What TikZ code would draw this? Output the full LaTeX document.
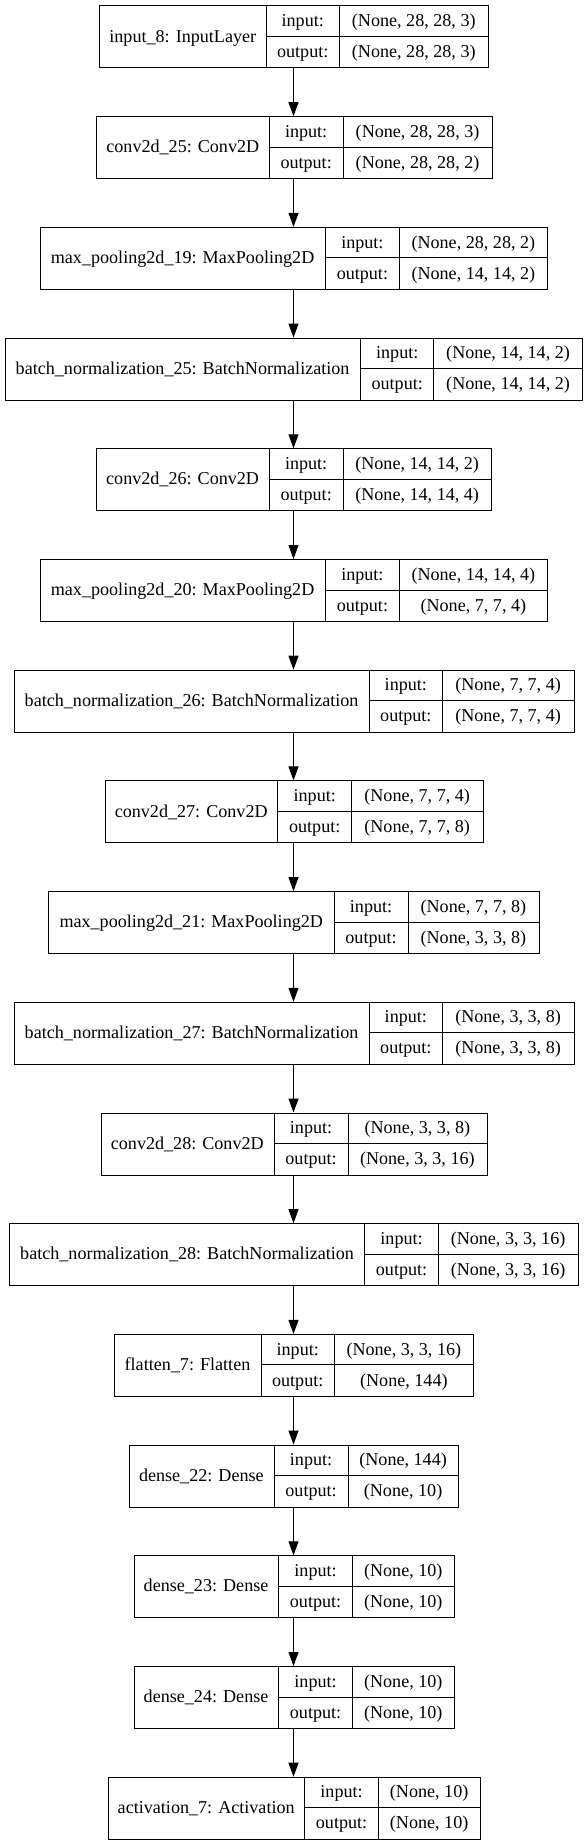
\documentclass[tikz,border=0pt]{standalone}
\usepackage{fontspec}
\setmainfont{Liberation Serif}
\usetikzlibrary{arrows.meta}
\tikzset{
  boxframe/.style={draw=black, line width=1pt, inner sep=0pt, fill=white},
  cellline/.style={draw=black, line width=1pt},
  txt/.style={inner sep=0pt, anchor=base, font=\fontsize{18.1}{21}\selectfont},
  arr/.style={draw=black, line width=1pt, -{Triangle[length=14pt,width=10pt]}}
}
% #1 index, #2 left, #3 split1, #4 split2, #5 right, #6 name, #7 input, #8 output
\newcommand\kerlayer[8]{%
  \pgfmathsetmacro\tp{5.5+110.7*(#1-1)}%
  \pgfmathsetmacro\bt{\tp+62}%
  \pgfmathsetmacro\md{\tp+31}%
  \node[boxframe, minimum width={(#5-#2)*1pt}, minimum height=62pt, anchor=north west] (L#1) at (#2,\tp) {};
  \draw[cellline] (#3,\tp) -- (#3,\bt);
  \draw[cellline] (#4,\tp) -- (#4,\bt);
  \draw[cellline] (#3,\md) -- (#5,\md);
  \node[txt] (N#1) at ({(#2+#3)/2},{\md+5.6}) {#6};
  \node[txt] (I#1) at ({(#3+#4)/2},{\tp+15.5+5.6}) {input:};
  \node[txt] (O#1) at ({(#3+#4)/2},{\tp+46.5+5.6}) {output:};
  \node[txt] (IV#1) at ({(#4+#5)/2},{\tp+15.5+5.6}) {#7};
  \node[txt] (OV#1) at ({(#4+#5)/2},{\tp+46.5+5.6}) {#8};
}
\begin{document}
\begin{tikzpicture}[x=1pt,y=-1pt]
\useasboundingbox (0,0) rectangle (587,1844);
\fill[white] (0,0) rectangle (587,1844);
\coordinate (axis) at (293.5,0);
\kerlayer{1}{99.4}{266.2}{339.3}{488.2}{input\_8: InputLayer}{(None, 28, 28, 3)}{(None, 28, 28, 3)}
\kerlayer{2}{96.4}{269.2}{343.1}{492.0}{conv2d\_25: Conv2D}{(None, 28, 28, 3)}{(None, 28, 28, 2)}
\kerlayer{3}{39.7}{325.5}{399.3}{547.4}{max\_pooling2d\_19: MaxPooling2D}{(None, 28, 28, 2)}{(None, 14, 14, 2)}
\kerlayer{4}{4.5}{360.7}{433.8}{582.3}{batch\_normalization\_25: BatchNormalization}{(None, 14, 14, 2)}{(None, 14, 14, 2)}
\kerlayer{5}{96.0}{269.2}{343.1}{491.2}{conv2d\_26: Conv2D}{(None, 14, 14, 2)}{(None, 14, 14, 4)}
\kerlayer{6}{39.7}{325.5}{399.3}{547.4}{max\_pooling2d\_20: MaxPooling2D}{(None, 14, 14, 4)}{(None, 7, 7, 4)}
\kerlayer{7}{13.9}{369.3}{442.4}{573.7}{batch\_normalization\_26: BatchNormalization}{(None, 7, 7, 4)}{(None, 7, 7, 4)}
\kerlayer{8}{104.6}{277.8}{351.7}{482.6}{conv2d\_27: Conv2D}{(None, 7, 7, 4)}{(None, 7, 7, 8)}
\kerlayer{9}{48.4}{334.1}{408.0}{538.8}{max\_pooling2d\_21: MaxPooling2D}{(None, 7, 7, 8)}{(None, 3, 3, 8)}
\kerlayer{10}{13.9}{369.3}{442.4}{573.7}{batch\_normalization\_27: BatchNormalization}{(None, 3, 3, 8)}{(None, 3, 3, 8)}
\kerlayer{11}{100.5}{274.1}{348.0}{486.7}{conv2d\_28: Conv2D}{(None, 3, 3, 8)}{(None, 3, 3, 16)}
\kerlayer{12}{9.4}{364.8}{438.3}{577.8}{batch\_normalization\_28: BatchNormalization}{(None, 3, 3, 16)}{(None, 3, 3, 16)}
\kerlayer{13}{114.0}{261.0}{334.5}{473.2}{flatten\_7: Flatten}{(None, 3, 3, 16)}{(None, 144)}
\kerlayer{14}{128.6}{274.1}{348.0}{458.2}{dense\_22: Dense}{(None, 144)}{(None, 10)}
\kerlayer{15}{133.5}{278.6}{352.5}{454.1}{dense\_23: Dense}{(None, 10)}{(None, 10)}
\kerlayer{16}{133.5}{278.6}{352.5}{454.1}{dense\_24: Dense}{(None, 10)}{(None, 10)}
\kerlayer{17}{107.6}{304.8}{378.3}{480.0}{activation\_7: Activation}{(None, 10)}{(None, 10)}
\foreach \a [evaluate=\a as \b using int(\a+1)] in {1,...,16}{
  \draw[arr] (L\a.south -| axis) -- (L\b.north -| axis);
}
\end{tikzpicture}
\end{document}
